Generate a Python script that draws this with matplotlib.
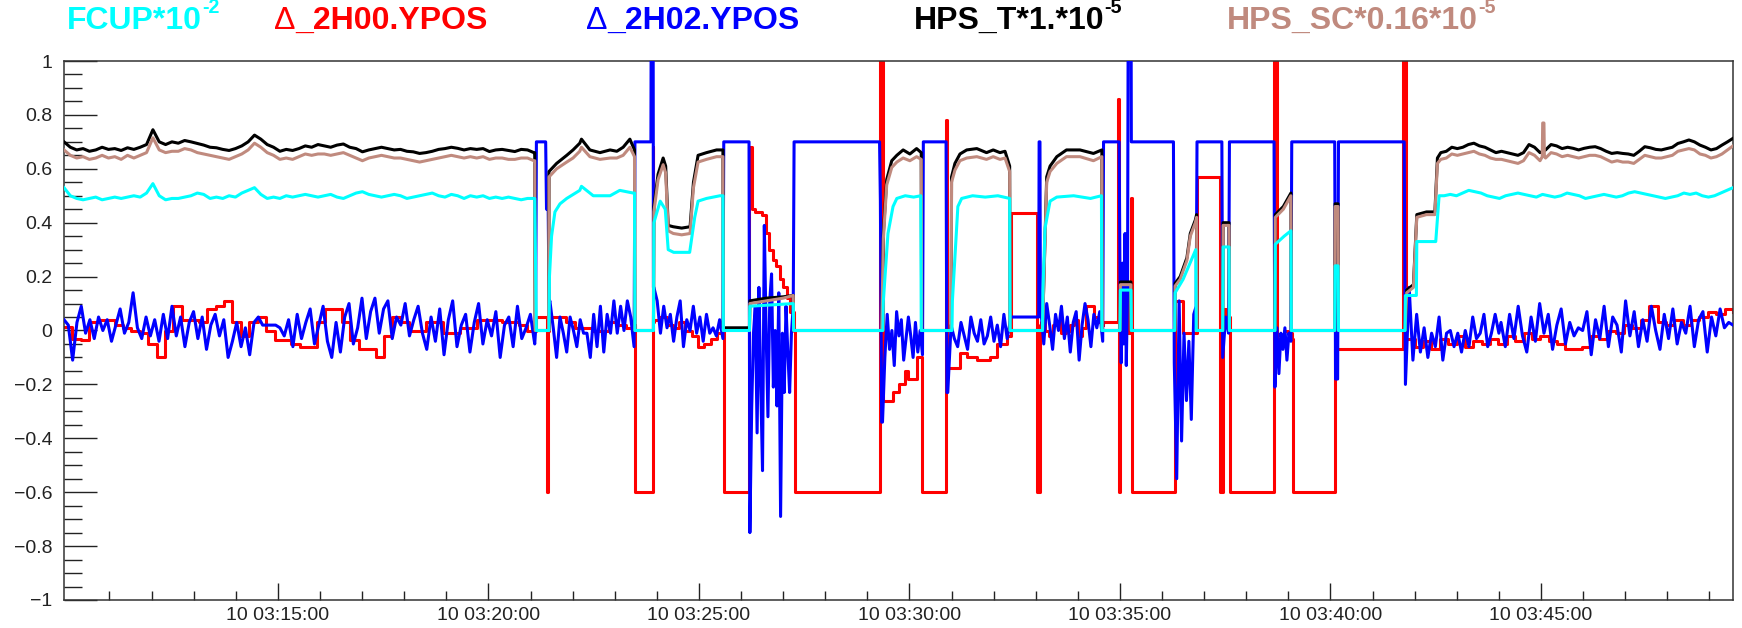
import numpy as np
import matplotlib
matplotlib.use("Agg")
import matplotlib.pyplot as plt
from matplotlib.ticker import FixedLocator, MultipleLocator, FuncFormatter

plt.rcParams['font.family'] = ['Liberation Sans', 'DejaVu Sans']

# time axis: minutes after 03:00 on day 10
T_START, T_END = 9.92, 49.56


def run(t0, t1, values):
    """Evenly sampled stretch of a trace between t0 and t1 (minutes)."""
    return list(zip(np.linspace(t0, t1, len(values)), values))


# ---------------- Delta 2H02.YPOS (blue) ----------------
ypos02_a = [0.04, 0.02, -0.11, 0.03, 0.09, -0.01, 0.04, -0.03, 0.05, 0.00, 0.04, -0.04, 0.02, 0.08,
            -0.01, 0.03, 0.14, 0.01, -0.03, 0.05, -0.02, 0.04, -0.04, 0.06, -0.03, 0.09, -0.02, 0.05,
            -0.06, 0.03, 0.07, -0.03, 0.05, -0.07, 0.02, 0.06, -0.02, 0.04, -0.10, -0.04, 0.03,
            -0.06, 0.01, -0.09, 0.03, 0.05, 0.02, 0.02, 0.02, 0.02, 0.01, -0.02, 0.04, -0.06, 0.06,
            -0.03, 0.03, 0.08, -0.05, 0.02, 0.09, -0.04, -0.10, 0.03, -0.08, 0.05, 0.10, -0.05, 0.01,
            0.12, -0.03, 0.07, 0.12, -0.01, 0.08, 0.11, -0.03, 0.05, 0.02, 0.10, -0.02, 0.04, 0.09,
            -0.01, -0.07, 0.05, -0.04, 0.08, -0.09, 0.04, 0.11, -0.06, 0.02, 0.06, -0.08, 0.03, 0.10,
            -0.05, 0.04, -0.02, 0.07, -0.10, 0.02, 0.05, -0.06, 0.09, -0.03, 0.01, 0.06, -0.05]
ypos02_b = [0.11, 0.01, -0.10, 0.05, -0.01, -0.08, 0.05, 0.00, -0.06, 0.04, -0.01, -0.01, -0.10,
            0.06, -0.06, 0.09, -0.08, 0.06, -0.01, 0.11, -0.01, 0.09, 0.00, 0.11, 0.05, -0.06]
ypos02_c = [0.16, 0.11, -0.01, 0.09, 0.01, 0.06, -0.04, 0.05, 0.11, -0.06, 0.04, 0.00, 0.09, -0.01,
            0.05, -0.04, 0.06, -0.01, 0.01, -0.02, 0.04, -0.03]
ypos02_d = [-0.75, -0.29, -0.01, 0.09, -0.38, 0.16, -0.20, -0.52, 0.39, -0.01, -0.32, 0.11, 0.21,
            -0.21, 0.00, -0.28, 0.14, -0.69, -0.01, -0.23, 0.09, -0.08, -0.23, -0.01, 0.09]
ypos02_e = [-0.34, -0.10, 0.06, -0.07, 0.00, -0.13, 0.07, -0.02, 0.04, -0.11, -0.03, 0.05, -0.02,
            -0.10, 0.03, -0.08, 0.00, -0.09]
ypos02_f = [-0.23, 0.02, -0.03, -0.06, 0.03, -0.02, -0.07, 0.05, -0.01, -0.04, 0.04, -0.05, -0.02,
            0.05, -0.04, 0.02, -0.06, 0.06, -0.03, 0.04]
ypos02_g = [0.08, -0.05, 0.10, 0.02, -0.07, 0.06, 0.00, 0.09, -0.03, 0.05, -0.08, 0.03, 0.07, -0.11,
            0.02, 0.10, 0.04, -0.06, 0.06, 0.01, 0.07, -0.04]
ypos02_h = [0.20, -0.12, 0.25, -0.05, 0.36, -0.13, 0.15]
ypos02_i = [-0.12, -0.55, 0.11, -0.41, -0.01, -0.26, -0.04, -0.33, 0.06, 0.09]
ypos02_j = [-0.10, 0.05, -0.01]
ypos02_k = [-0.21, 0.01, -0.16, -0.01, -0.07, 0.01, -0.11, -0.01, -0.04]
ypos02_l = [-0.20, 0.16, -0.11, 0.06, -0.08, 0.01, -0.10, -0.01, -0.06, 0.05, -0.11, -0.01, 0.00,
            -0.06, -0.01, -0.08, 0.00, -0.06, 0.05, -0.03, -0.01, 0.06, -0.06, -0.01, 0.06, -0.01]
ypos02_m = [0.03, -0.06, 0.06, -0.03, 0.09, -0.02, -0.08, 0.05, -0.04, 0.10, -0.01, 0.06, -0.07,
            0.02, 0.08, -0.05, 0.03, -0.02, 0.01, 0.00, 0.07, -0.09, 0.04, -0.03, 0.09, -0.06, 0.05,
            0.02, -0.08, 0.11, -0.02, 0.07, -0.06, 0.04, -0.04, 0.09, 0.00, -0.07, 0.06, -0.03, 0.08,
            -0.05, 0.03, -0.01, 0.09, -0.06, 0.04, 0.07, -0.08, 0.05, -0.02, 0.08, 0.01, 0.03, 0.02]

ypos02 = (run(9.92, 21.10, ypos02_a)
          + [(21.12, 0.0), (21.14, 0.7), (21.36, 0.7), (21.38, 0.45), (21.42, 0.45), (21.44, 0.1)]
          + run(21.46, 23.46, ypos02_b)
          + [(23.48, 0.7), (23.86, 0.7), (23.87, 1.5), (23.91, 1.5), (23.92, 0.16)]
          + run(23.93, 25.57, ypos02_c)
          + [(25.59, 0.7), (26.19, 0.7)]
          + run(26.21, 27.24, ypos02_d)
          + [(27.26, 0.7), (29.29, 0.7), (29.31, 0.48), (29.34, -0.34)]
          + run(29.36, 30.31, ypos02_e)
          + [(30.33, 0.7), (30.87, 0.7), (30.89, -0.23)]
          + run(30.91, 32.40, ypos02_f)
          + [(32.41, 0.05), (33.07, 0.05), (33.08, 0.7), (33.10, 0.7), (33.11, 0.08)]
          + run(33.12, 34.59, ypos02_g)
          + [(34.61, 0.7), (34.98, 0.7)]
          + run(35.00, 35.18, ypos02_h)
          + [(35.20, 1.5), (35.26, 1.5), (35.27, 0.7), (36.27, 0.7)]
          + run(36.29, 36.81, ypos02_i)
          + [(36.83, 0.7), (37.42, 0.7)]
          + run(37.44, 37.58, ypos02_j)
          + [(37.60, 0.7), (38.66, 0.7)]
          + run(38.68, 39.06, ypos02_k)
          + [(39.08, 0.7), (40.10, 0.7), (40.12, -0.18), (40.17, -0.18), (40.19, 0.7), (41.75, 0.7)]
          + run(41.78, 44.00, ypos02_l)
          + run(44.05, 49.56, ypos02_m))

# ---------------- Delta 2H00.YPOS (red) ----------------
ypos00_a = [0.014, -0.03, -0.035, 0.03, 0.04, 0.04, 0.02, 0.01, 0.00, -0.01, -0.05, -0.10, 0.00,
            0.09, 0.04, 0.04, 0.03, 0.08, 0.09, 0.11, 0.03, -0.02, 0.03, 0.05, 0.00, -0.035, -0.035,
            -0.05, -0.06, -0.06, 0.03, 0.08, 0.08, 0.03, -0.035, -0.07, -0.07, -0.10, -0.02, 0.05,
            0.03, 0.00, 0.00, 0.03, 0.03, -0.01, -0.01, 0.01, 0.01, 0.04, 0.04, 0.04, 0.03, 0.03,
            0.02, 0.00, 0.01]
ypos00_b = [0.05, 0.05, 0.03, 0.01, 0.01, 0.00, 0.00, 0.03, 0.02, 0.01, 0.02]
ypos00_c = [0.04, 0.05, 0.02, 0.01, 0.03, 0.00, -0.02, -0.06, -0.05, -0.03, -0.01, 0.01]
ypos00_d = [0.45, 0.44, 0.44, 0.43, 0.36, 0.30, 0.26, 0.24, 0.19, 0.16, 0.12, 0.07, 0.00]
ypos00_e = [(29.36, -0.26), (29.60, -0.26), (29.61, -0.23), (29.75, -0.23), (29.76, -0.20),
            (29.88, -0.20), (29.89, -0.15), (29.95, -0.15), (29.96, -0.18), (30.18, -0.18),
            (30.19, -0.10), (30.30, -0.10)]
ypos00_f = [(30.89, -0.14), (31.19, -0.14), (31.20, -0.085), (31.36, -0.085), (31.37, -0.10),
            (31.60, -0.10), (31.61, -0.11), (31.91, -0.11), (31.92, -0.10), (32.06, -0.10),
            (32.07, -0.05), (32.30, -0.05), (32.31, -0.02), (32.40, -0.02)]
ypos00_g = [0.03, 0.00, -0.02, 0.02, 0.03, -0.01, 0.00, 0.02, 0.04, -0.02, 0.01, 0.09, 0.09, 0.05,
            0.03, 0.02]
ypos00_h = [0.20, 0.05, 0.15, -0.01, 0.10]
ypos00_i = [-0.03, -0.02, 0.00, -0.01, -0.03]
ypos00_j = [-0.03, -0.06, -0.04, -0.07, -0.03, -0.05, -0.02, -0.06, -0.04, -0.05, -0.03, -0.05,
            -0.02, -0.04, -0.01, -0.03, -0.02, -0.04, -0.05, -0.07, -0.07, -0.06, -0.02, -0.03,
            0.00, -0.01, 0.02, 0.01, 0.04, 0.09, 0.03, 0.02, 0.04, 0.02, 0.04, 0.05, 0.07, 0.06,
            0.08, 0.07]

ypos00 = (run(9.92, 21.12, ypos00_a)
          + [(21.13, 0.05), (21.37, 0.05), (21.38, -0.6), (21.41, -0.6), (21.42, 0.0)]
          + run(21.45, 23.47, ypos00_b)
          + [(23.49, -0.6), (23.89, -0.6), (23.90, 0.68), (23.91, 0.03)]
          + run(23.93, 25.58, ypos00_c)
          + [(25.59, -0.6), (26.17, -0.6), (26.19, 0.68), (26.25, 0.45)]
          + run(26.26, 27.25, ypos00_d)
          + [(27.27, -0.6), (29.29, -0.6), (29.30, 1.5), (29.34, 1.5)]
          + ypos00_e
          + [(30.31, -0.6), (30.86, -0.6), (30.87, 0.78), (30.89, -0.14)]
          + ypos00_f
          + [(32.41, 0.435), (33.03, 0.435), (33.04, -0.6), (33.10, -0.6), (33.11, 0.02)]
          + run(33.12, 34.59, ypos00_g)
          + [(34.60, 0.03), (34.95, 0.03), (34.96, 0.86), (34.97, -0.6), (34.99, -0.6), (35.00, 0.1)]
          + run(35.01, 35.26, ypos00_h)
          + [(35.27, 0.49), (35.28, -0.6), (36.29, -0.6), (36.30, 0.11), (36.48, 0.11),
             (36.49, -0.01), (36.83, -0.01), (36.84, 0.57), (37.37, 0.57), (37.38, -0.6),
             (37.42, -0.6), (37.44, 0.08), (37.52, 0.02), (37.59, 0.05), (37.61, -0.6),
             (38.65, -0.6), (38.66, 1.5), (38.71, 1.5), (38.72, -0.02)]
          + run(38.73, 39.08, ypos00_i)
          + [(39.10, -0.6), (40.10, -0.6), (40.11, -0.07), (41.72, -0.07), (41.73, 1.5),
             (41.78, 1.5), (41.79, -0.03)]
          + run(41.80, 49.56, ypos00_j))

# ---------------- HPS_T (black) and HPS_SC (brown) ----------------
hps_t_a = [0.70, 0.68, 0.67, 0.675, 0.665, 0.67, 0.68, 0.672, 0.675, 0.668, 0.678, 0.672, 0.68,
           0.69, 0.745, 0.70, 0.69, 0.70, 0.695, 0.705, 0.70, 0.694, 0.688, 0.68, 0.678, 0.672,
           0.668, 0.675, 0.685, 0.70, 0.725, 0.71, 0.69, 0.68, 0.665, 0.672, 0.668, 0.675, 0.685,
           0.68, 0.69, 0.685, 0.68, 0.688, 0.692, 0.68, 0.675, 0.663, 0.67, 0.675, 0.68, 0.675,
           0.67, 0.672, 0.665, 0.663, 0.657, 0.66, 0.665, 0.672, 0.675, 0.68, 0.676, 0.67, 0.675,
           0.672, 0.675, 0.664, 0.67, 0.672, 0.668, 0.664, 0.672, 0.67, 0.66]
hps_sc_a = [0.67, 0.65, 0.64, 0.645, 0.635, 0.64, 0.65, 0.64, 0.645, 0.635, 0.65, 0.64, 0.65, 0.66,
            0.715, 0.67, 0.66, 0.665, 0.665, 0.675, 0.67, 0.66, 0.655, 0.65, 0.645, 0.64, 0.635,
            0.645, 0.655, 0.67, 0.695, 0.68, 0.66, 0.65, 0.635, 0.64, 0.635, 0.645, 0.655, 0.65,
            0.655, 0.655, 0.65, 0.655, 0.66, 0.65, 0.64, 0.63, 0.64, 0.645, 0.65, 0.645, 0.64, 0.64,
            0.635, 0.63, 0.625, 0.63, 0.635, 0.64, 0.645, 0.65, 0.645, 0.64, 0.645, 0.64, 0.645,
            0.635, 0.64, 0.64, 0.635, 0.635, 0.64, 0.64, 0.63]

hps_t_b = [(21.10, 0.66), (21.11, 0.0), (21.43, 0.0), (21.44, 0.59), (21.62, 0.62), (21.86, 0.65),
           (22.01, 0.67), (22.17, 0.695), (22.21, 0.71), (22.41, 0.67), (22.65, 0.66), (22.89, 0.67),
           (23.05, 0.665), (23.20, 0.68), (23.36, 0.71), (23.47, 0.67), (23.48, 0.0), (23.92, 0.0),
           (23.93, 0.46), (24.03, 0.58), (24.15, 0.64), (24.21, 0.61), (24.27, 0.39), (24.39, 0.385),
           (24.59, 0.38), (24.79, 0.385), (24.87, 0.55), (24.98, 0.65), (25.18, 0.66), (25.42, 0.67),
           (25.57, 0.67), (25.58, 0.01), (26.20, 0.01), (26.21, 0.11), (26.60, 0.12), (27.00, 0.125),
           (27.24, 0.13), (27.25, 0.0), (29.34, 0.0), (29.38, 0.36), (29.46, 0.56), (29.58, 0.63),
           (29.70, 0.65), (29.85, 0.67), (30.01, 0.655), (30.17, 0.675), (30.28, 0.66), (30.29, 0.0),
           (30.99, 0.0), (31.00, 0.57), (31.08, 0.62), (31.20, 0.655), (31.36, 0.67), (31.60, 0.675),
           (31.83, 0.66), (31.99, 0.67), (32.15, 0.66), (32.27, 0.665), (32.38, 0.61), (32.39, 0.0),
           (33.16, 0.0), (33.26, 0.57), (33.34, 0.61), (33.50, 0.645), (33.73, 0.67), (34.05, 0.67),
           (34.37, 0.657), (34.57, 0.67), (34.58, 0.0), (35.00, 0.0), (35.01, 0.18), (35.26, 0.18),
           (35.27, 0.0), (36.30, 0.0), (36.31, 0.175), (36.43, 0.20), (36.59, 0.27), (36.67, 0.36),
           (36.79, 0.41), (36.82, 0.43), (36.83, 0.0), (37.44, 0.0), (37.45, 0.40), (37.59, 0.40),
           (37.60, 0.0), (38.68, 0.0), (38.69, 0.43), (38.88, 0.46), (39.06, 0.51), (39.07, 0.0),
           (40.10, 0.0), (40.11, 0.47), (40.18, 0.47), (40.19, 0.0), (41.77, 0.0), (41.81, 0.15),
           (41.97, 0.17), (42.05, 0.43), (42.28, 0.44), (42.48, 0.44), (42.54, 0.64)]
hps_sc_b = [(21.10, 0.63), (21.11, 0.0), (21.43, 0.0), (21.44, 0.57), (21.62, 0.60), (21.86, 0.625),
            (22.01, 0.64), (22.17, 0.665), (22.21, 0.68), (22.41, 0.645), (22.65, 0.635),
            (22.89, 0.64), (23.05, 0.64), (23.20, 0.65), (23.36, 0.68), (23.47, 0.645), (23.48, 0.0),
            (23.92, 0.0), (23.93, 0.44), (24.03, 0.56), (24.15, 0.615), (24.21, 0.585), (24.27, 0.37),
            (24.39, 0.36), (24.59, 0.355), (24.79, 0.36), (24.87, 0.53), (24.98, 0.625),
            (25.18, 0.635), (25.42, 0.645), (25.57, 0.645), (25.58, 0.0), (26.20, 0.0), (26.21, 0.10),
            (26.60, 0.11), (27.00, 0.12), (27.24, 0.13), (27.25, 0.0), (29.34, 0.0), (29.38, 0.34),
            (29.46, 0.54), (29.58, 0.605), (29.70, 0.625), (29.85, 0.64), (30.01, 0.63),
            (30.17, 0.645), (30.28, 0.635), (30.29, 0.0), (30.99, 0.0), (31.00, 0.55), (31.08, 0.595),
            (31.20, 0.63), (31.36, 0.64), (31.60, 0.645), (31.83, 0.635), (31.99, 0.645),
            (32.15, 0.635), (32.27, 0.64), (32.38, 0.59), (32.39, 0.0), (33.16, 0.0), (33.26, 0.55),
            (33.34, 0.59), (33.50, 0.62), (33.73, 0.645), (34.05, 0.645), (34.37, 0.63),
            (34.57, 0.645), (34.58, 0.0), (35.00, 0.0), (35.01, 0.17), (35.26, 0.17), (35.27, 0.0),
            (36.30, 0.0), (36.31, 0.165), (36.43, 0.19), (36.59, 0.26), (36.67, 0.35), (36.79, 0.40),
            (36.82, 0.42), (36.83, 0.0), (37.44, 0.0), (37.45, 0.39), (37.59, 0.39), (37.60, 0.0),
            (38.68, 0.0), (38.69, 0.42), (38.88, 0.45), (39.06, 0.50), (39.07, 0.0), (40.10, 0.0),
            (40.11, 0.46), (40.18, 0.46), (40.19, 0.0), (41.77, 0.0), (41.81, 0.14), (41.97, 0.16),
            (42.05, 0.42), (42.28, 0.43), (42.48, 0.43), (42.54, 0.62)]
hps_t_c = [0.66, 0.665, 0.68, 0.675, 0.68, 0.69, 0.695, 0.685, 0.68, 0.67, 0.66, 0.665, 0.66, 0.655,
           0.65, 0.66, 0.69, 0.68, 0.66, 0.67, 0.69, 0.685, 0.675, 0.68, 0.676, 0.67, 0.676, 0.68,
           0.682, 0.675, 0.665, 0.657, 0.66, 0.657, 0.655, 0.65, 0.665, 0.682, 0.678, 0.672, 0.67,
           0.675, 0.68, 0.694, 0.70, 0.707, 0.70, 0.688, 0.68, 0.67, 0.675, 0.688, 0.70, 0.713]
hps_sc_c = [0.635, 0.64, 0.655, 0.65, 0.655, 0.66, 0.665, 0.655, 0.65, 0.64, 0.635, 0.635, 0.63,
            0.625, 0.62, 0.63, 0.66, 0.65, 0.63, 0.64, 0.66, 0.655, 0.645, 0.65, 0.645, 0.64, 0.645,
            0.65, 0.65, 0.645, 0.635, 0.625, 0.63, 0.625, 0.625, 0.62, 0.635, 0.65, 0.645, 0.64,
            0.64, 0.645, 0.65, 0.665, 0.67, 0.675, 0.67, 0.655, 0.65, 0.64, 0.645, 0.655, 0.67, 0.685]
hps_sc_spike = [(45.03, 0.645), (45.04, 0.77), (45.07, 0.77), (45.08, 0.645)]

hps_t = run(9.92, 21.08, hps_t_a) + hps_t_b + run(42.62, 49.56, hps_t_c)
hps_sc = run(9.92, 21.08, hps_sc_a) + hps_sc_b + sorted(run(42.62, 49.56, hps_sc_c) + hps_sc_spike)

# ---------------- FCUP (cyan) ----------------
fcup_a = [0.53, 0.50, 0.49, 0.485, 0.49, 0.495, 0.485, 0.49, 0.495, 0.49, 0.495, 0.50, 0.495, 0.51,
          0.545, 0.50, 0.485, 0.49, 0.49, 0.495, 0.50, 0.51, 0.505, 0.49, 0.495, 0.49, 0.50, 0.495,
          0.51, 0.52, 0.53, 0.505, 0.49, 0.495, 0.49, 0.50, 0.495, 0.50, 0.505, 0.50, 0.495, 0.50,
          0.505, 0.495, 0.49, 0.50, 0.51, 0.515, 0.505, 0.50, 0.495, 0.50, 0.505, 0.50, 0.49, 0.495,
          0.50, 0.505, 0.51, 0.50, 0.495, 0.505, 0.50, 0.49, 0.50, 0.495, 0.50, 0.49, 0.495, 0.49,
          0.495, 0.49, 0.485, 0.49, 0.49]
fcup_b = [(21.10, 0.49), (21.12, 0.26), (21.14, 0.0), (21.44, 0.0), (21.45, 0.2), (21.50, 0.35),
          (21.58, 0.44), (21.70, 0.47), (21.86, 0.49), (22.17, 0.52), (22.21, 0.535), (22.49, 0.50),
          (22.89, 0.50), (23.12, 0.52), (23.44, 0.51), (23.47, 0.51), (23.48, 0.0), (23.92, 0.0),
          (23.93, 0.40), (24.08, 0.48), (24.20, 0.45), (24.27, 0.30), (24.40, 0.29), (24.78, 0.29),
          (24.90, 0.42), (24.98, 0.48), (25.18, 0.49), (25.50, 0.50), (25.57, 0.50), (25.58, 0.0),
          (26.20, 0.0), (26.21, 0.09), (27.24, 0.10), (27.25, 0.0), (29.37, 0.0), (29.38, 0.11),
          (29.49, 0.36), (29.61, 0.46), (29.70, 0.49), (29.90, 0.50), (30.10, 0.495), (30.27, 0.50),
          (30.28, 0.0), (31.01, 0.0), (31.02, 0.11), (31.15, 0.46), (31.24, 0.49), (31.50, 0.50),
          (31.80, 0.495), (32.10, 0.50), (32.38, 0.49), (32.39, 0.0), (33.16, 0.0), (33.17, 0.15),
          (33.22, 0.38), (33.34, 0.48), (33.50, 0.495), (33.90, 0.50), (34.30, 0.49), (34.56, 0.50),
          (34.57, 0.0), (35.00, 0.0), (35.01, 0.15), (35.26, 0.15), (35.27, 0.0), (36.30, 0.0),
          (36.31, 0.14), (36.50, 0.19), (36.80, 0.30), (36.81, 0.0), (37.44, 0.0), (37.45, 0.31),
          (37.59, 0.31), (37.60, 0.0), (38.68, 0.0), (38.69, 0.32), (38.90, 0.35), (39.06, 0.37),
          (39.07, 0.0), (40.10, 0.0), (40.11, 0.24), (40.18, 0.24), (40.19, 0.0), (41.77, 0.0),
          (41.78, 0.13), (42.04, 0.13), (42.05, 0.33), (42.50, 0.33), (42.58, 0.50)]
fcup_c = [0.50, 0.505, 0.50, 0.51, 0.52, 0.515, 0.51, 0.50, 0.495, 0.49, 0.50, 0.505, 0.51, 0.505,
          0.50, 0.495, 0.505, 0.50, 0.495, 0.50, 0.51, 0.505, 0.50, 0.49, 0.495, 0.50, 0.505, 0.50,
          0.495, 0.50, 0.51, 0.515, 0.51, 0.505, 0.50, 0.495, 0.49, 0.495, 0.50, 0.51, 0.505, 0.51,
          0.50, 0.495, 0.50, 0.51, 0.52, 0.53]

fcup = run(9.92, 21.08, fcup_a) + fcup_b + run(42.70, 49.56, fcup_c)

RED, BLUE, BLACK, BROWN, CYAN = "#ff0000", "#0000ff", "#000000", "#c08a7e", "#00ffff"

series = [
    (ypos00, RED, 2, 'steps-post'),
    (ypos02, BLUE, 3, 'default'),
    (hps_t, BLACK, 4, 'default'),
    (hps_sc, BROWN, 5, 'default'),
    (fcup, CYAN, 6, 'default'),
]

W, H = 1742, 628
fig = plt.figure(figsize=(W / 100, H / 100), dpi=100)
ax = fig.add_axes([64 / W, 1 - 600 / H, (1733 - 64) / W, (600 - 61) / H])

for pts, color, z, style in series:
    t, v = zip(*pts)
    ax.plot(t, v, color=color, lw=2.2, zorder=z, drawstyle=style, solid_joinstyle='round')

ax.set_xlim(T_START, T_END)
ax.set_ylim(-1, 1)

major_minutes = [15, 20, 25, 30, 35, 40, 45]
ax.xaxis.set_major_locator(FixedLocator(major_minutes))
ax.xaxis.set_minor_locator(FixedLocator([m for m in range(11, 50) if m not in major_minutes]))
ax.xaxis.set_major_formatter(FuncFormatter(lambda t, pos: f"10 03:{int(round(t)):02d}:00"))
ax.yaxis.set_major_locator(MultipleLocator(0.2))
ax.yaxis.set_minor_locator(MultipleLocator(0.05))
ax.yaxis.set_major_formatter(
    FuncFormatter(lambda v, pos: ('%g' % (round(v, 3) + 0.0)).replace('-', '\u2212')))

ax.tick_params(axis='y', which='major', direction='in', length=23.5, width=1.0, pad=8.5,
               labelsize=14, colors='#222222')
ax.tick_params(axis='y', which='minor', direction='in', length=13, width=1.0, colors='#222222')
ax.tick_params(axis='x', which='major', direction='in', length=12, width=1.0, pad=5,
               labelsize=14, colors='#222222')
ax.tick_params(axis='x', which='minor', direction='in', length=6.5, width=1.0, colors='#222222')
for s in ax.spines.values():
    s.set_color('#333333')
    s.set_linewidth(1.1)

# titles of the traces along the top edge
renderer = fig.canvas.get_renderer()
base_y = 1 - 29 / H
fs = 23


def title(x_px, parts, color):
    x = x_px / W
    for txt, kind in parts:
        if kind == 'sup':
            size, y, weight = fs * 0.62, base_y + 0.5 * fs * (100 / 72) / H, 'bold'
        else:
            size, y, weight = fs, base_y, kind
        t = fig.text(x, y, txt, color=color, fontsize=size, fontweight=weight,
                     ha='left', va='baseline')
        bb = t.get_window_extent(renderer)
        x = bb.x1 / W


title(67, [("FCUP*10", 'bold'), ("-2", 'sup')], CYAN)
title(274, [("\u0394", 'normal'), ("_2H00.YPOS", 'bold')], RED)
title(586, [("\u0394", 'normal'), ("_2H02.YPOS", 'bold')], BLUE)
title(914, [("HPS_T*1.*10", 'bold'), ("-5", 'sup')], BLACK)
title(1227, [("HPS_SC*0.16*10", 'bold'), ("-5", 'sup')], BROWN)

fig.savefig("out.png", dpi=100)
